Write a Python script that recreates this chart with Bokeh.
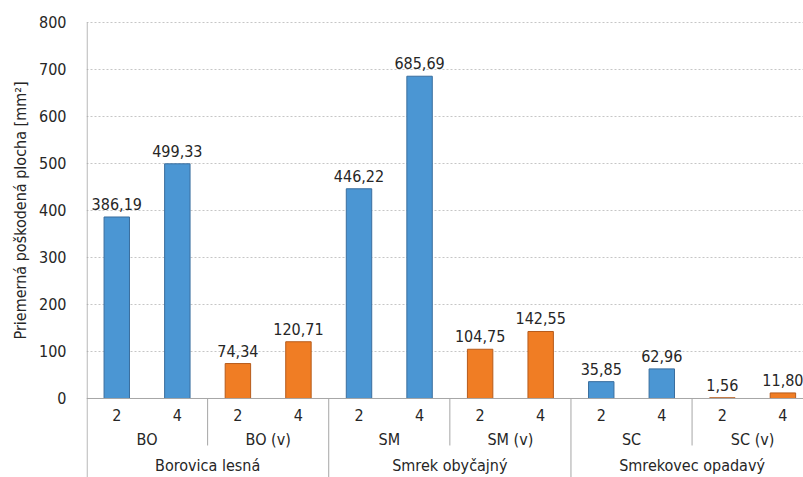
from bokeh.plotting import figure
from bokeh.models import ColumnDataSource, Range1d, FixedTicker, Span, Title
from bokeh.core.properties import value
from bokeh.embed import file_html
from bokeh.resources import INLINE

# --- data -------------------------------------------------------------
groups = ["Borovica lesná", "Smrek obyčajný", "Smrekovec opadavý"]
subgroups = ["BO", "BO (v)", "SM", "SM (v)", "SC", "SC (v)"]
periods = ["2", "4"]
values = [386.19, 499.33, 74.34, 120.71,
          446.22, 685.69, 104.75, 142.55,
          35.85, 62.96, 1.56, 11.80]
y_ticks = [0, 100, 200, 300, 400, 500, 600, 700, 800]
y_title = "Priemerná poškodená plocha [mm²]"

FONT = "'DejaVu Sans Condensed', Roboto, sans-serif"
FS = "16px"
TXT = "#262626"
BLUE, BLUE_EDGE = "#4b96d3", "#3a6e9e"
ORANGE, ORANGE_EDGE = "#f07d24", "#b65b1b"
AXIS = "#a6a6a6"

# one slot per bar, two slots per subgroup, four per group
xs = [i + 0.5 for i in range(len(values))]
is_v = [subgroups[i // 2].endswith("(v)") for i in range(len(values))]
fills = [ORANGE if v else BLUE for v in is_v]
edges = [ORANGE_EDGE if v else BLUE_EDGE for v in is_v]
texts = [f"{v:.2f}".replace(".", ",") for v in values]

src = ColumnDataSource(dict(x=xs, top=values, fill=fills, edge=edges, label=texts))

Y_LOW = -168.1
p = figure(width=803, height=477, output_backend="svg", toolbar_location=None,
           x_range=Range1d(0, 11.84), y_range=Range1d(Y_LOW, 846.8),
           min_border_left=86, min_border_right=0, min_border_top=0, min_border_bottom=0)
p.outline_line_color = None
p.background_fill_color = "white"
p.xaxis.visible = False
p.xgrid.visible = False

yax = p.yaxis[0]
yax.ticker = FixedTicker(ticks=y_ticks)
yax.axis_line_color = None
yax.major_tick_line_color = None
yax.minor_tick_line_color = None
yax.major_label_standoff = 14
yax.major_label_text_font = FONT
yax.major_label_text_font_size = FS
yax.major_label_text_color = TXT

p.ygrid.ticker = FixedTicker(ticks=y_ticks[1:])
p.ygrid.grid_line_color = "#c6c6c6"
p.ygrid.grid_line_dash = "2 2"

# bars and their value labels
p.vbar(x="x", top="top", bottom=0, width=0.42, source=src,
       fill_color="fill", line_color="edge", line_width=1)
p.text(x="x", y="top", text="label", source=src, y_offset=-7,
       text_align="center", text_baseline="bottom",
       text_font=value(FONT), text_font_size=FS, text_color=TXT)

# axis lines
p.add_layout(Span(location=0, dimension="width", line_color=AXIS, line_width=1))
p.segment(x0=[0.01], y0=[800], x1=[0.01], y1=[Y_LOW], line_color=AXIS, line_width=1)

# multi-level category axis drawn below zero
n_sub = len(subgroups)
sep_x = [2 * k + 2 for k in range(n_sub - 1)]
p.segment(x0=sep_x, y0=[0] * len(sep_x), x1=sep_x,
          y1=[Y_LOW if (k + 1) % 2 == 0 else -100 for k in range(n_sub - 1)],
          line_color=AXIS, line_width=1)

p.text(x=xs, y=[-35] * len(xs), text=[periods[i % 2] for i in range(len(xs))],
       text_align="center", text_baseline="middle",
       text_font=value(FONT), text_font_size=FS, text_color=TXT)
p.text(x=[2 * k + 1 for k in range(n_sub)], y=[-87] * n_sub, text=subgroups,
       text_align="center", text_baseline="middle",
       text_font=value(FONT), text_font_size=FS, text_color=TXT)
p.text(x=[4 * k + 2 for k in range(len(groups))], y=[-143] * len(groups), text=groups,
       text_align="center", text_baseline="middle",
       text_font=value(FONT), text_font_size=FS, text_color=TXT)

# rotated y-axis title, anchored from the bottom of its panel
p.add_layout(Title(text=y_title, align="left", offset=138, standoff=14,
                   text_font=FONT, text_font_size=FS, text_font_style="normal",
                   text_color=TXT), "left")

open("out.html", "w").write(file_html(p, INLINE))
